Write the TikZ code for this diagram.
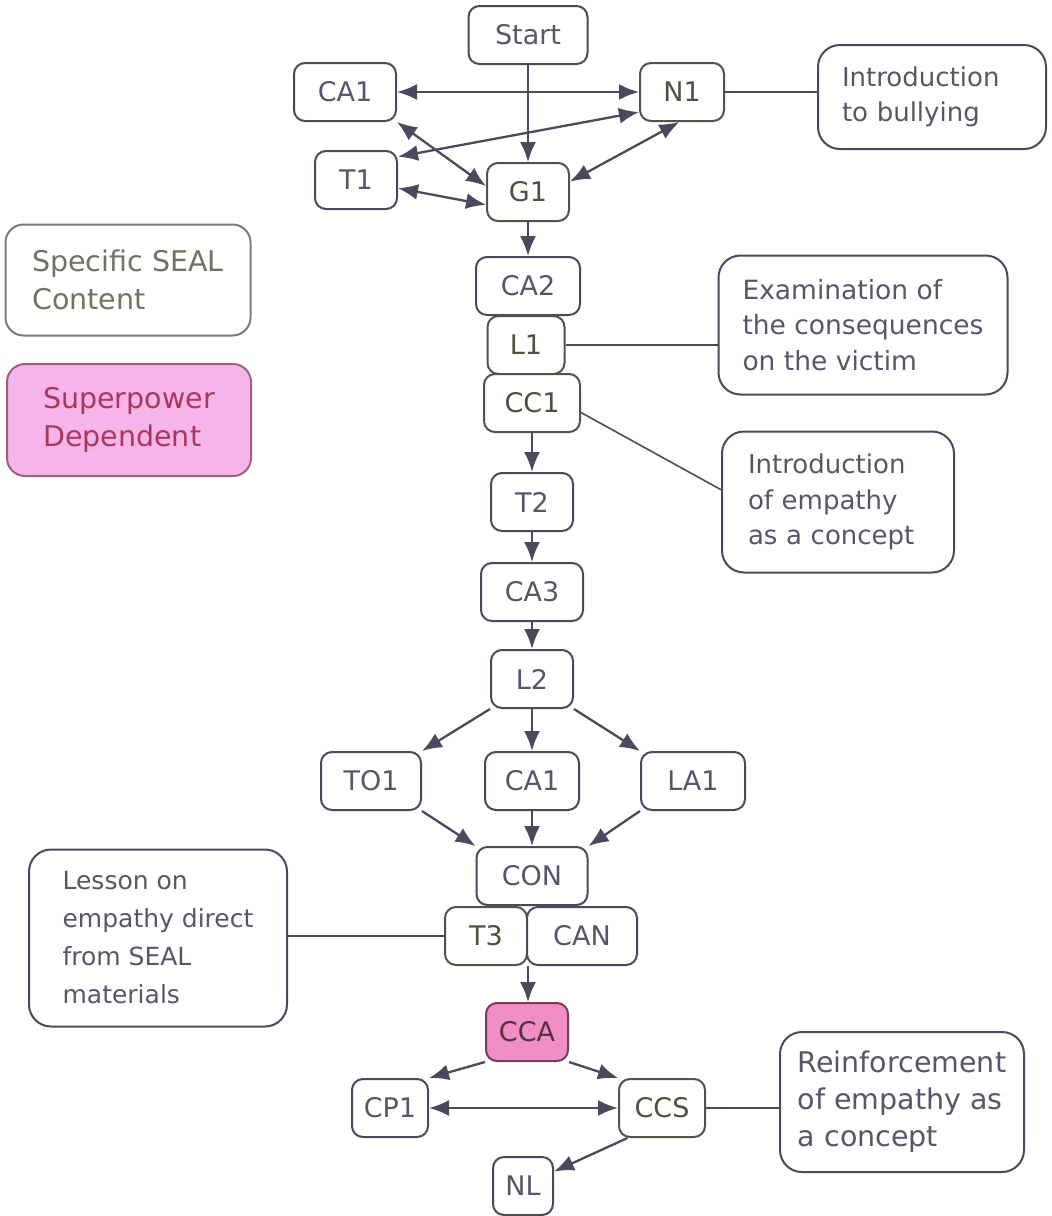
\documentclass[tikz,border=0pt]{standalone}
\usepackage{fontspec}
\setmainfont{DejaVu Sans}
\usetikzlibrary{arrows.meta}
\definecolor{ink}{HTML}{4A4A5E}
\definecolor{txt}{HTML}{56566B}
\definecolor{sealink}{HTML}{4F5548}
\definecolor{sealtxt}{HTML}{4B5240}
\definecolor{legtxt}{HTML}{6E7362}
\definecolor{legdraw}{HTML}{7C7C80}
\definecolor{superfill}{HTML}{F5B5EA}
\definecolor{superdraw}{HTML}{A0607A}
\definecolor{supertxt}{HTML}{A8385A}
\definecolor{ccafill}{HTML}{EE8EC4}
\definecolor{ccadraw}{HTML}{7A3A55}
\definecolor{ccatxt}{HTML}{5C2F40}

\begin{document}
\begin{tikzpicture}[x=1pt,y=-1pt,
  box/.style={draw=ink, line width=2pt, rounded corners=11pt, fill=white, text=txt, inner sep=0pt,
    minimum height=58pt, minimum width=#1, font=\fontsize{27}{32}\selectfont},
  box/.default=82pt,
  seal/.style={box=#1, draw=sealink, text=sealtxt},
  seal/.default=82pt,
  note/.style={draw=ink, line width=2pt, rounded corners=22pt, text=txt, align=left,
    inner sep=0pt, font=\fontsize{26}{35.5}\selectfont},
  legend/.style={note, rounded corners=18pt, font=\fontsize{28.5}{38}\selectfont},
  arr/.style={draw=ink, line width=2.3pt, -{Latex[length=20pt,width=16pt]}},
  dbl/.style={arr, {Latex[length=20pt,width=16pt]}-{Latex[length=20pt,width=16pt]}},
  link/.style={draw=ink, line width=1.6pt}]
\useasboundingbox (0,0) rectangle (1052,1216);

\node[box=119pt] (start) at (528,35) {Start};
\node[box=102pt] (ca1t) at (345,92) {CA1};
\node[seal=84pt] (n1) at (682,92) {N1};
\node[box] (t1) at (356,180) {T1};
\node[seal] (g1) at (528,192) {G1};
\node[note, inner xsep=24pt, text width=180pt, minimum height=104pt] (bully) at (932,97) {Introduction\\to bullying};

\node[legend, draw=legdraw, text=legtxt, minimum width=245pt, minimum height=111pt] (legseal) at (128,280) {Specific SEAL\\Content};
\node[legend, draw=superdraw, fill=superfill, text=supertxt, minimum width=244pt, minimum height=112pt] (legsuper) at (129,420) {Superpower\\Dependent};

\node[box=104pt] (ca2) at (528,286) {CA2};
\node[seal=77pt] (l1) at (526,345) {L1};
\node[seal=96pt] (cc1) at (532,403) {CC1};
\node[note, minimum width=289pt, minimum height=139pt, font=\fontsize{26.5}{35.5}\selectfont] (exam) at (863,325) {Examination of\\the consequences\\on the victim};
\node[note, inner xsep=26pt, text width=180pt, minimum height=141pt] (empathy) at (838,502) {Introduction\\of empathy\\as a concept};

\node[box] (t2) at (532,502) {T2};
\node[box=102pt] (ca3) at (532,592) {CA3};
\node[box] (l2) at (532,679) {L2};
\node[box=100pt] (to1) at (371,781) {TO1};
\node[box=94pt] (ca1m) at (532,781) {CA1};
\node[box=104pt] (la1) at (693,781) {LA1};
\node[box=111pt] (con) at (532,876) {CON};
\node[seal] (t3) at (486,936) {T3};
\node[box=110pt] (can) at (582,936) {CAN};
\node[note, minimum width=258pt, minimum height=177pt, font=\fontsize{25}{38}\selectfont] (lesson) at (158,938) {Lesson on\\empathy direct\\from SEAL\\materials};

\node[box, draw=ccadraw, fill=ccafill, text=ccatxt] (cca) at (527,1032) {CCA};
\node[box=76pt] (cp1) at (390,1108) {CP1};
\node[seal=86pt] (ccs) at (662,1108) {CCS};
\node[box=60pt] (nl) at (523,1186) {NL};
\node[note, minimum width=244pt, minimum height=140pt, font=\fontsize{28.5}{37}\selectfont] (reinf) at (902,1102) {Reinforcement\\of empathy as\\a concept};

\draw[dbl] (ca1t.east) -- (n1.west);
\draw[dbl] (t1.29) -- (n1.205);
\draw[dbl] (ca1t.south east) -- (g1.172);
\draw[dbl] (t1.-11) -- (g1.197);
\draw[dbl] (n1.265) -- (g1.14);
\draw[arr] (start.south) -- (g1.north);
\draw[link] (n1.east) -- (n1.east -| bully.west);
\draw[arr] (g1.south) -- (ca2.north);
\draw[link] (l1.east) -- (l1.east -| exam.west);
\draw[link] (cc1.-11) -- (empathy.174);
\draw[arr] (cc1.south) -- (t2.north);
\draw[arr] (t2.south) -- (ca3.north);
\draw[arr] (ca3.south) -- (l2.north);
\draw[arr] (l2.south west) -- (to1.north east);
\draw[arr] (l2.south) -- (ca1m.north);
\draw[arr] (l2.south east) -- (la1.north west);
\draw[arr] (to1.south east) -- (con.north west);
\draw[arr] (ca1m.south) -- (con.north);
\draw[arr] (la1.south west) -- (con.north east);
\draw[link] (t3.west) -- (t3.west -| lesson.east);
\draw[arr] (t3.south east) -- (t3.south east |- cca.north);
\draw[arr] (cca.south west) -- (cp1.north east);
\draw[arr] (cca.south east) -- (ccs.north west);
\draw[dbl] (cp1.east) -- (ccs.west);
\draw[arr] (ccs.221) -- (nl.25);
\draw[link] (ccs.east) -- (ccs.east -| reinf.west);
\end{tikzpicture}
\end{document}
